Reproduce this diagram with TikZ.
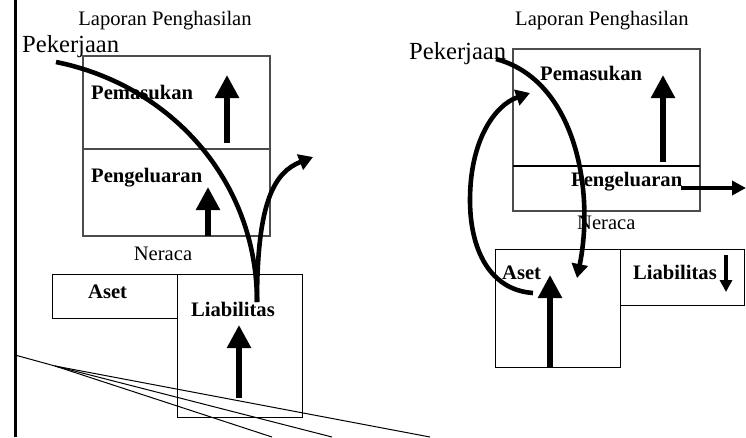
\documentclass[tikz,border=0pt]{standalone}
\usepackage{fontspec}
\setmainfont{Liberation Serif}
\usetikzlibrary{arrows.meta}
\begin{document}
\begin{tikzpicture}[x=1pt,y=-1pt,
  lbl/.style={inner sep=0pt, font=\fontsize{20.6}{24}\selectfont},
  blbl/.style={inner sep=0pt, font=\fontsize{20.6}{24}\selectfont\bfseries},
  big/.style={inner sep=0pt, font=\fontsize{24.6}{28}\selectfont},
  ibox/.style={draw=black!70, line width=1.1pt, anchor=north west, inner sep=0pt, outer sep=0pt},
  bbox/.style={draw=black, line width=1pt, anchor=north west, inner sep=0pt, outer sep=0pt},
  bigarrow/.style={line width=5.5pt, -{Triangle[width=23pt,length=23pt]}},
  smallarrow/.style={line width=4.3pt, -{Triangle[width=14pt,length=14pt]}},
  flow/.style={line width=4.6pt, line cap=butt, -{Triangle[width=16pt,length=14pt]}},
  curve/.style={line width=4.6pt},
  thin/.style={line width=1pt}
]
\useasboundingbox (0,0) rectangle (746,437);

% left vertical rule
\coordinate (vt) at (15.3,0);
\coordinate (vb) at (15.3,437);
\draw[line width=3pt] (vt) -- (vb);

% ================= LEFT PANEL =================
\node[lbl, anchor=base] (ltitle) at (165,25) {Laporan Penghasilan};
\node[big, anchor=base west] (lpek) at (22,52) {Pekerjaan};

\node[ibox, minimum width=187pt, minimum height=180pt] (lincome) at (83,56) {};
\coordinate (ldivw) at (83,149);
\coordinate (ldive) at (270,149);
\draw[draw=black!70, line width=1.1pt] (ldivw) -- (ldive);

\node[blbl, anchor=base west] (lpem) at (91,99) {Pemasukan};
\node[blbl, anchor=base west] (lpeng) at (91,182) {Pengeluaran};

\coordinate (lpemA) at (227,143);
\coordinate (lpemB) at (227,75);
\draw[bigarrow] (lpemA) -- (lpemB);
\coordinate (lpengA) at (208,236);
\coordinate (lpengB) at (208,187);
\draw[bigarrow] (lpengA) -- (lpengB);

\node[lbl, anchor=base] (lner) at (163,260) {Neraca};
\node[bbox, minimum width=125pt, minimum height=44pt] (laset) at (52,274) {};
\node[bbox, minimum width=125pt, minimum height=143pt] (lliab) at (177,274) {};
\node[blbl, anchor=base west] (lasett) at (88,298) {Aset};
\node[blbl, anchor=base west] (lliabt) at (191,316) {Liabilitas};

\coordinate (lliA) at (239,398);
\coordinate (lliB) at (239,325);
\draw[bigarrow] (lliA) -- (lliB);

% curves
\coordinate (lc0) at (56,62);
\coordinate (lc1) at (257,302);
\coordinate (lc2) at (313,157);
\draw[curve] (lc0) .. controls (170,85) and (257,180) .. (lc1);
\draw[flow] (lc1) .. controls (257,200) and (275,172) .. (lc2);

% fan lines
\coordinate (f0) at (15,355);
\coordinate (f1) at (55,366);
\coordinate (fa) at (430,437);
\coordinate (fb) at (332,437);
\coordinate (fc) at (272,437);
\draw[thin] (f0) -- (f1) -- (fa);
\draw[thin] (f1) -- (fb);
\draw[thin] (f1) -- (fc);

% ================= RIGHT PANEL =================
\node[lbl, anchor=base west] (rtitle) at (515,25) {Laporan Penghasilan};
\node[big, anchor=base west] (rpek) at (409,59) {Pekerjaan};

\node[ibox, minimum width=187pt, minimum height=162pt] (rincome) at (513,49) {};
\coordinate (rdivw) at (513,166);
\coordinate (rdive) at (700,166);
\draw[line width=1.4pt] (rdivw) -- (rdive);

\node[blbl, anchor=base west] (rpem) at (540,80) {Pemasukan};
\node[blbl, anchor=base west] (rpeng) at (571,186) {Pengeluaran};

\coordinate (rpemA) at (663,162);
\coordinate (rpemB) at (663,75);
\draw[bigarrow] (rpemA) -- (rpemB);

\coordinate (rpengA) at (681,188);
\coordinate (rpengB) at (746,188);
\draw[smallarrow] (rpengA) -- (rpengB);

\node[lbl, anchor=base west] (rner) at (577,229) {Neraca};
\node[bbox, minimum width=125pt, minimum height=118pt] (raset) at (495,249) {};
\node[bbox, minimum width=124pt, minimum height=56pt] (rliab) at (620,249) {};
\node[blbl, anchor=base west] (rasett) at (502,279) {Aset};
\node[blbl, anchor=base west] (rliabt) at (633,279) {Liabilitas};

\coordinate (rasA) at (550,367);
\coordinate (rasB) at (550,275);
\draw[bigarrow] (rasA) -- (rasB);

\coordinate (rliA) at (726,255);
\coordinate (rliB) at (726,292);
\draw[line width=4.3pt, -{Triangle[width=12pt,length=12pt]}] (rliA) -- (rliB);

% curves
\coordinate (rc0) at (496,59);
\coordinate (rc1) at (577,278);
\draw[flow] (rc0) .. controls (575,80) and (595,190) .. (rc1);
\coordinate (rd0) at (533,293);
\coordinate (rdm) at (470,200);
\coordinate (rd1) at (530,93);
\draw[flow] (rd0) .. controls (490,290) and (470,250) .. (rdm) .. controls (470,140) and (495,105) .. (rd1);

\end{tikzpicture}
\end{document}
